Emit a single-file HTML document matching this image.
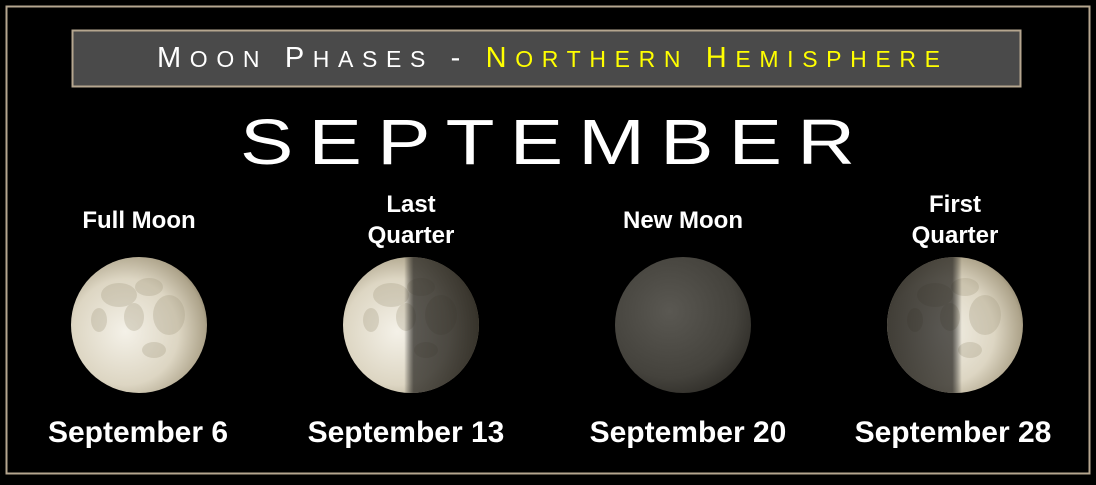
<!DOCTYPE html>
<html><head><meta charset="utf-8"><style>
body{margin:0;background:#000;width:1096px;height:480px;overflow:hidden;font-family:"Liberation Sans",sans-serif}
</style></head><body>
<svg width="1096" height="480" xmlns="http://www.w3.org/2000/svg">
<defs>
<radialGradient id="lit" cx="0.4" cy="0.55" r="0.65">
<stop offset="0" stop-color="#f4f1e8"/><stop offset="0.6" stop-color="#ddd6c3"/><stop offset="0.9" stop-color="#aea48b"/><stop offset="1" stop-color="#857a62"/></radialGradient>
<radialGradient id="dark" cx="0.4" cy="0.4" r="0.7">
<stop offset="0" stop-color="#5a5852"/><stop offset="0.7" stop-color="#44423c"/><stop offset="1" stop-color="#2c2a25"/></radialGradient>
<linearGradient id="lq" x1="0" x2="1"><stop offset="0" stop-color="#000" stop-opacity="0"/><stop offset="0.45" stop-color="#000" stop-opacity="0"/><stop offset="0.52" stop-color="#2a2824" stop-opacity="0.75"/><stop offset="1" stop-color="#1a1814" stop-opacity="0.8"/></linearGradient>
<linearGradient id="fq" x1="1" x2="0"><stop offset="0" stop-color="#000" stop-opacity="0"/><stop offset="0.45" stop-color="#000" stop-opacity="0"/><stop offset="0.52" stop-color="#2a2824" stop-opacity="0.75"/><stop offset="1" stop-color="#1a1814" stop-opacity="0.8"/></linearGradient>
<g id="maria" fill="#a39a80" opacity="0.3">
<ellipse cx="-20" cy="-30" rx="18" ry="12"/><ellipse cx="10" cy="-38" rx="14" ry="9"/><ellipse cx="30" cy="-10" rx="16" ry="20"/><ellipse cx="-5" cy="-8" rx="10" ry="14"/><ellipse cx="15" cy="25" rx="12" ry="8"/><ellipse cx="-40" cy="-5" rx="8" ry="12"/></g>
</defs>
<rect x="6.5" y="6.5" width="1083" height="467" fill="none" stroke="#b5a68f" stroke-width="2"/>
<rect x="72.5" y="30.5" width="948" height="56" fill="#4a4a4a" stroke="#b5a68f" stroke-width="2"/>
<text x="157" y="67" textLength="783" lengthAdjust="spacing" font-size="29" fill="#fff">M<tspan font-size="23">OON</tspan> P<tspan font-size="23">HASES</tspan> - <tspan fill="#ffff00">N<tspan font-size="23">ORTHERN</tspan> H<tspan font-size="23">EMISPHERE</tspan></tspan></text>
<g transform="scale(1.25,1)">
<text x="192" y="164" textLength="492" lengthAdjust="spacing" font-size="64" fill="#fff">SEPTEMBER</text>
</g>

<g>
<text x="139" y="228" text-anchor="middle" font-size="24" font-weight="bold" fill="#fff">Full Moon</text>
<circle cx="139" cy="325" r="68" fill="url(#lit)"/>
<use href="#maria" x="139" y="325"/>
<text x="138" y="442" text-anchor="middle" font-size="30" font-weight="bold" fill="#fff">September 6</text></g>

<g>
<text x="411" y="212" text-anchor="middle" font-size="24" font-weight="bold" fill="#fff">Last</text>
<text x="411" y="243" text-anchor="middle" font-size="24" font-weight="bold" fill="#fff">Quarter</text>
<circle cx="411" cy="325" r="68" fill="url(#lit)"/>
<use href="#maria" x="411" y="325"/>
<circle cx="411" cy="325" r="68" fill="url(#lq)"/>
<text x="406" y="442" text-anchor="middle" font-size="30" font-weight="bold" fill="#fff">September 13</text></g>

<g>
<text x="683" y="228" text-anchor="middle" font-size="24" font-weight="bold" fill="#fff">New Moon</text>
<circle cx="683" cy="325" r="68" fill="url(#dark)"/>
<text x="688" y="442" text-anchor="middle" font-size="30" font-weight="bold" fill="#fff">September 20</text></g>

<g>
<text x="955" y="212" text-anchor="middle" font-size="24" font-weight="bold" fill="#fff">First</text>
<text x="955" y="243" text-anchor="middle" font-size="24" font-weight="bold" fill="#fff">Quarter</text>
<circle cx="955" cy="325" r="68" fill="url(#lit)"/>
<use href="#maria" x="955" y="325"/>
<circle cx="955" cy="325" r="68" fill="url(#fq)"/>
<text x="953" y="442" text-anchor="middle" font-size="30" font-weight="bold" fill="#fff">September 28</text></g>
</svg>
</body></html>
